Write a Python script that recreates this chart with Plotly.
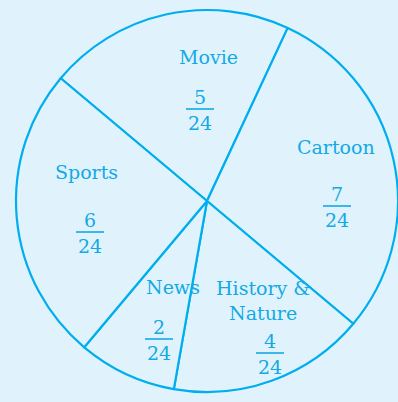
import plotly.graph_objects as go

# Share of viewers per programme type (out of 24)
categories = ["Movie", "Cartoon", "History &<br>Nature", "News", "Sports"]
counts = [5, 7, 4, 2, 6]
total = 24

W, H = 398, 402
BG = "#E0F3FC"
INK = "#00AEEF"
TXT = "#12A9E6"
FONT = "DejaVu Serif"

# label anchors in pixels: (name x, name y, fraction x, fraction bar y)
label_pos = {
    "Movie": (208, 57, 200, 109),
    "Cartoon": (336, 147, 337, 206),
    "History &<br>Nature": (263, 300, 270, 353),
    "News": (173, 287, 159, 339),
    "Sports": (86, 172, 90, 232),
}

def px(x):
    return x / W

def py(y):
    return 1 - y / H

fig = go.Figure(
    go.Pie(
        labels=categories,
        values=counts,
        sort=False,
        direction="clockwise",
        rotation=-50,
        textinfo="none",
        hoverinfo="label+value",
        marker=dict(colors=[BG] * len(counts), line=dict(color=INK, width=2.2)),
        domain=dict(x=[16 / W, 1], y=[0, 1]),
        showlegend=False,
    )
)

annotations = []
shapes = []
for name, val in zip(categories, counts):
    nx, ny, fx, fy = label_pos[name]
    annotations.append(dict(
        x=px(nx), y=py(ny), xref="paper", yref="paper", text=name,
        showarrow=False, xanchor="center", yanchor="middle",
        font=dict(family=FONT, size=19, color=TXT),
    ))
    annotations.append(dict(
        x=px(fx), y=py(fy - 12), xref="paper", yref="paper", text=str(val),
        showarrow=False, xanchor="center", yanchor="middle",
        font=dict(family=FONT, size=19, color=TXT),
    ))
    annotations.append(dict(
        x=px(fx), y=py(fy + 14), xref="paper", yref="paper", text=str(total),
        showarrow=False, xanchor="center", yanchor="middle",
        font=dict(family=FONT, size=19, color=TXT),
    ))
    shapes.append(dict(
        type="line", xref="paper", yref="paper",
        x0=px(fx - 14), x1=px(fx + 14), y0=py(fy), y1=py(fy),
        line=dict(color=TXT, width=1.6),
    ))

fig.update_layout(
    width=W, height=H,
    margin=dict(l=0, r=0, t=0, b=0),
    paper_bgcolor=BG, plot_bgcolor=BG,
    annotations=annotations, shapes=shapes,
)

fig.write_html("out.html")
